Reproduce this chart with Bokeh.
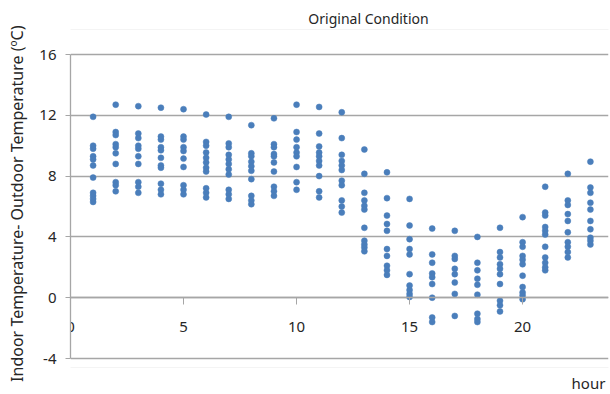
from bokeh.plotting import figure
from bokeh.models import FixedTicker, Range1d, Label, BoxAnnotation, CustomJSTickFormatter
from bokeh.embed import file_html
from bokeh.resources import INLINE

hours = list(range(1, 24))
x_ticks = [0, 5, 10, 15, 20]
y_ticks = [-4, 0, 4, 8, 12, 16]

t01 = [11.9, 10.0, 9.8, 9.3, 9.1, 8.7, 7.9, 6.9, 6.7, 6.5, 6.3]
t02 = [12.7, 10.9, 10.7, 10.1, 9.9, 9.5, 8.8, 7.6, 7.4, 7.0]
t03 = [12.6, 10.8, 10.5, 10.0, 9.8, 9.3, 8.8, 7.6, 7.3, 6.9]
t04 = [12.5, 10.6, 10.4, 9.9, 9.7, 9.2, 8.7, 8.55, 7.5, 7.1, 6.8]
t05 = [12.4, 10.6, 10.4, 9.9, 9.65, 9.15, 8.6, 7.4, 7.1, 6.8]
t06 = [12.05, 10.25, 10.0, 9.55, 9.2, 8.9, 8.55, 8.3, 7.2, 6.9, 6.6]
t07 = [11.9, 10.15, 9.9, 9.4, 9.1, 8.8, 8.45, 8.1, 7.1, 6.8, 6.5]
t08 = [11.35, 9.5, 9.3, 8.95, 8.65, 8.35, 7.8, 6.7, 6.4, 6.15]
t09 = [11.8, 10.1, 9.9, 9.45, 9.3, 8.9, 8.3, 7.3, 7.0, 6.7]
t10 = [12.7, 10.9, 10.4, 9.9, 9.55, 9.3, 8.6, 7.6, 7.1]
t11 = [12.55, 10.8, 9.95, 9.55, 9.3, 9.0, 8.7, 8.0, 7.0, 6.6]
t12 = [12.2, 10.5, 9.4, 9.0, 8.7, 8.4, 7.7, 7.4, 6.4, 6.0, 5.6]
t13 = [9.75, 8.15, 6.9, 6.4, 6.05, 5.8, 4.6, 3.75, 3.5, 3.3, 3.05]
t14 = [8.25, 6.55, 5.4, 4.85, 4.4, 3.2, 2.75, 2.1, 1.8, 1.5]
t15 = [6.5, 4.75, 3.85, 3.2, 2.85, 1.55, 0.8, 0.5, 0.25, 0.05]
t16 = [4.55, 2.85, 2.3, 1.6, 1.35, 0.9, 0.0, -1.3, -1.6]
t17 = [4.4, 2.75, 2.55, 1.9, 1.55, 1.0, 0.25, -1.2]
t18 = [4.0, 2.3, 1.8, 1.25, 0.85, 0.2, -1.05, -1.4, -1.6]
t19 = [4.6, 3.0, 2.65, 2.2, 1.9, 1.55, 0.9, -0.2, -0.5, -0.9]
t20 = [5.3, 3.65, 3.35, 2.75, 2.5, 2.2, 1.45, 0.7, 0.35, 0.15, -0.1]
t21 = [7.3, 5.6, 5.4, 4.65, 4.4, 4.15, 3.35, 2.65, 2.3, 2.0, 1.8]
t22 = [8.15, 6.4, 6.1, 5.5, 5.05, 4.3, 3.65, 3.35, 3.0, 2.65]
t23 = [8.95, 7.25, 6.9, 6.25, 5.8, 5.05, 4.5, 3.95, 3.75, 3.5]

series = [t01, t02, t03, t04, t05, t06, t07, t08, t09, t10, t11, t12,
          t13, t14, t15, t16, t17, t18, t19, t20, t21, t22, t23]

xs, ys = [], []
for h, vals in zip(hours, series):
    xs += [h] * len(vals)
    ys += vals

FONT = "Noto Sans"
GRID = "#a6a6a6"
TXT = "#262626"

W, H = 610, 394
LEFT, RIGHT = 70, 2
PX_PER_Y = 15.2          # pixels per degree on the vertical scale
TOP_PAD, BOTTOM_PAD = 54, 36   # space above 16 and below -4

p = figure(width=W, height=H, output_backend="svg", toolbar_location=None,
           x_range=Range1d(0, 23.8),
           y_range=Range1d(y_ticks[0] - BOTTOM_PAD / PX_PER_Y,
                           y_ticks[-1] + TOP_PAD / PX_PER_Y),
           min_border_left=LEFT, min_border_right=RIGHT, min_border_top=0,
           min_border_bottom=0)
p.outline_line_color = None
p.background_fill_color = "white"
p.border_fill_color = "white"

# chart-area border (light)
p.add_layout(BoxAnnotation(left=-40, right=560, bottom=27, top=365,
                           left_units="screen", right_units="screen",
                           bottom_units="screen", top_units="screen",
                           fill_alpha=0, line_color="#d9d9d9", line_width=1,
                           level="underlay"))

p.scatter(xs, ys, size=6, fill_color="#4A7EBB", line_color="#4A7EBB", line_width=0.5)

# grid
p.xgrid.grid_line_color = None
p.ygrid.ticker = FixedTicker(ticks=y_ticks)
p.ygrid.grid_line_color = GRID
p.ygrid.grid_line_width = 1.3

# x axis crossing at y = 0
xa = p.xaxis[0]
xa.fixed_location = 0
xa.ticker = FixedTicker(ticks=x_ticks)
xa.formatter = CustomJSTickFormatter(code="return tick.toString();")
xa.axis_line_color = GRID
xa.axis_line_width = 1.3
xa.major_tick_line_color = GRID
xa.major_tick_out = 7
xa.major_tick_in = 0
xa.minor_tick_line_color = None
xa.major_label_standoff = 17
xa.major_label_text_font = FONT
xa.major_label_text_font_size = "15px"
xa.major_label_text_color = TXT

ya = p.yaxis[0]
ya.bounds = (y_ticks[0], y_ticks[-1])
ya.ticker = FixedTicker(ticks=y_ticks)
ya.formatter = CustomJSTickFormatter(code="return tick.toString();")
ya.axis_line_color = GRID
ya.axis_line_width = 1.3
ya.major_tick_line_color = GRID
ya.major_tick_out = 5
ya.major_tick_in = 0
ya.minor_tick_line_color = None
ya.major_label_standoff = 9
ya.major_label_text_font = FONT
ya.major_label_text_font_size = "15px"
ya.major_label_text_color = TXT
ya.axis_label = "Indoor Temperature-  Outdoor Temperature   (ºC)"
ya.axis_label_text_font = FONT
ya.axis_label_text_font_size = "16px"
ya.axis_label_text_font_style = "normal"
ya.axis_label_text_color = TXT
ya.axis_label_standoff = 8

p.add_layout(Label(x=298, y=H - 18, x_units="screen", y_units="screen",
                   text="Original Condition", text_font=FONT, text_font_size="14px",
                   text_align="center", text_baseline="middle", text_color=TXT))
p.add_layout(Label(x=518, y=H - 382, x_units="screen", y_units="screen",
                   text="hour", text_font=FONT, text_font_size="15px",
                   text_align="center", text_baseline="middle", text_color=TXT))

open("out.html", "w").write(file_html(p, INLINE))
